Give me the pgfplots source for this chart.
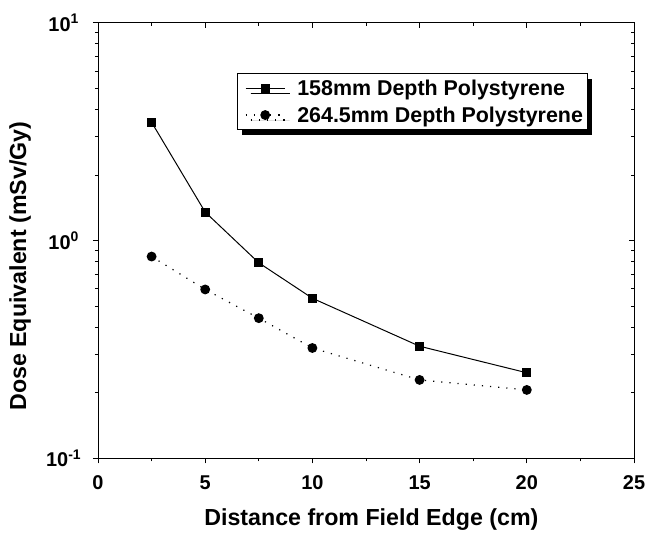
\documentclass[border=0pt]{standalone}
\usepackage{fontspec}
\setmainfont{Liberation Sans}
\usepackage{pgfplots}
\pgfplotsset{compat=1.18}
\usetikzlibrary{shadows}
\newcommand{\ylab}[1]{\makebox[0pt][c]{#1}\hspace*{25.8bp}}
\begin{document}
\begin{tikzpicture}
\begin{axis}[
  name=main,
  scale only axis,
  width=536bp, height=435.6bp,
  xmode=normal, ymode=log,
  xmin=0, xmax=25, ymin=0.1, ymax=10,
  xtick={0,5,10,15,20,25},
  minor x tick num=1,
  ytick={0.1,1,10},
  yticklabels={\ylab{10\textsuperscript{-1}},\ylab{10\textsuperscript{0}},\ylab{10\textsuperscript{1}}},
  /pgf/number format/assume math mode=true,
  tick label style={font=\fontsize{20}{24}\selectfont\bfseries},
  xlabel style={font=\fontsize{23.3}{27}\selectfont\bfseries},
  ylabel style={font=\fontsize{23.3}{27}\selectfont\bfseries},
  xlabel={Distance from Field Edge (cm)},
  ylabel={Dose Equivalent (mSv/Gy)},
  xlabel style={at={(axis description cs:0.510,-0.140)}, anchor=center},
  ylabel style={at={(axis description cs:-0.1455,0.441)}, anchor=center},
  tick align=outside,
  xtick pos=bottom, ytick pos=left,
  major tick length=5bp, minor tick length=3bp,
  axis line style={line width=1pt},
  every tick/.style={black, line width=0.8pt},
  xticklabel style={anchor=center, yshift=-19bp},
  legend style={at={(0.259,0.884)}, anchor=north west, draw=black, line width=0.6pt,
    font=\fontsize{21.5}{25}\selectfont\bfseries, row sep=6bp, inner xsep=2bp, inner ysep=4bp,
    drop shadow={shadow xshift=5bp, shadow yshift=-5bp, fill=black, opacity=1}},
  legend cell align=left,
  legend image code/.code={\path (-6bp,0bp) (49bp,0bp);\draw[mark repeat=2,mark phase=2,#1] plot coordinates {(0bp,0bp) (19.5bp,0bp) (39bp,0bp)};},
]
\addplot[black, line width=1pt, mark=square*, mark size=4bp] coordinates {
  (2.5,3.49) (5,1.35) (7.5,0.79) (10,0.543) (15,0.327) (20,0.247)
};
\addlegendentry{158mm Depth Polystyrene}
\addplot[black, line width=1.2pt, dash pattern=on 1.2pt off 7pt, mark=*, mark size=4.3bp, mark options={solid}] coordinates {
  (2.5,0.844) (5,0.596) (7.5,0.44) (10,0.321) (15,0.229) (20,0.206)
};
\addlegendentry{264.5mm Depth Polystyrene}
\end{axis}
\begin{axis}[
  scale only axis,
  width=536bp, height=435.6bp,
  ymode=log,
  xmin=0, xmax=25, ymin=0.1, ymax=10,
  xtick={0,5,10,15,20,25},
  minor x tick num=1,
  ytick={0.1,1,10},
  axis x line*=top, axis y line*=right,
  xticklabels={}, yticklabels={},
  tick align=inside,
  major tick length=5bp, minor tick length=3bp,
  axis line style={line width=1pt, -},
  every tick/.style={black, line width=0.8pt},
]
\end{axis}
\pgfresetboundingbox
\path ([xshift=-98bp,yshift=-80bp]main.south west) rectangle ([xshift=16bp,yshift=22.7bp]main.north east);
\end{tikzpicture}
\end{document}
